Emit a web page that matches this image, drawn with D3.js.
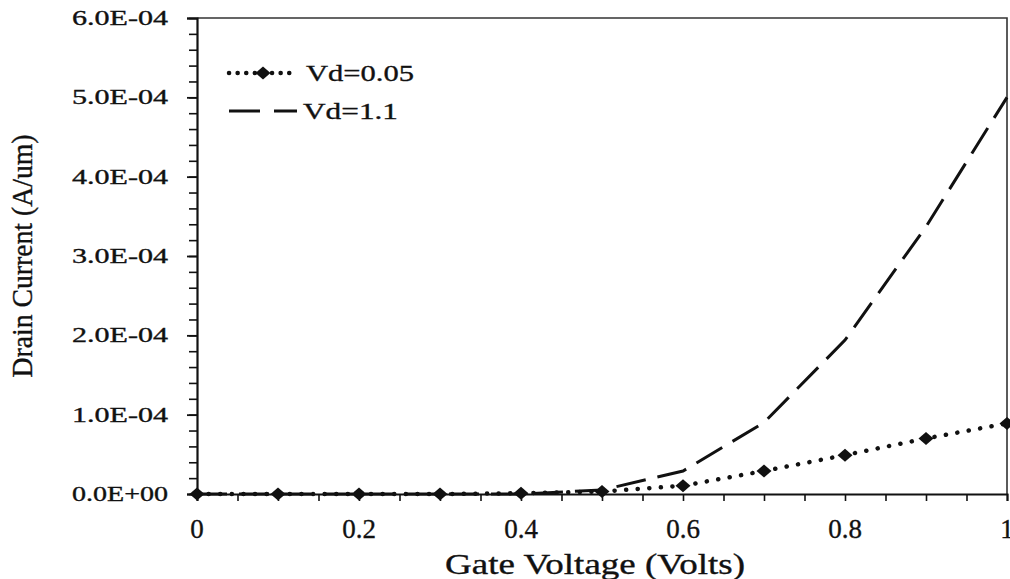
<!DOCTYPE html>
<html>
<head>
<meta charset="utf-8">
<script src="https://cdn.jsdelivr.net/npm/d3@7"></script>
<style>
  body { margin: 0; background: #fff; }
  text { font-family: "Liberation Serif", "Times New Roman", serif; fill: #111; stroke: #111; stroke-width: 0.35px; }
</style>
</head>
<body>
<div id="chart"></div>
<script>
var width = 1010;
var height = 579;

// data
var gateVoltage = [0, 0.1, 0.2, 0.3, 0.4, 0.5, 0.6, 0.7, 0.8, 0.9, 1.0];
var vd005 = [0, 0, 0, 0, 0.1e-5, 0.3e-5, 1.05e-5, 2.9e-5, 4.9e-5, 7.0e-5, 8.9e-5];
var vd11 = [0, 0, 0, 0, 0, 0.5e-5, 2.9e-5, 9.0e-5, 19.4e-5, 33.7e-5, 50.0e-5];
var seriesNames = ["Vd=0.05", "Vd=1.1"];
var xTicks = [0, 0.2, 0.4, 0.6, 0.8, 1];
var xTickLabels = ["0", "0.2", "0.4", "0.6", "0.8", "1"];
var yTicks = [0, 1e-4, 2e-4, 3e-4, 4e-4, 5e-4, 6e-4];
var yTickLabels = ["0.0E+00", "1.0E-04", "2.0E-04", "3.0E-04", "4.0E-04", "5.0E-04", "6.0E-04"];

// plot box (top is a window property, so use other names)
var plotLeft = 197, plotRight = 1007, plotTop = 18, plotBottom = 494;

var xScale = d3.scaleLinear().domain([0, 1]).range([plotLeft, plotRight]);
var yScale = d3.scaleLinear().domain([0, 6e-4]).range([plotBottom, plotTop]);

var svg = d3.select("#chart")
    .append("svg")
    .attr("width", width)
    .attr("height", height);

// box top and right
svg.append("path")
    .attr("d", "M" + plotLeft + "," + plotTop + "H" + plotRight + "V" + plotBottom)
    .attr("fill", "none")
    .attr("stroke", "#333")
    .attr("stroke-width", 1.6);

// x axis: ticks every 0.05, labels every 0.2
var xAxis = d3.axisBottom(xScale)
    .tickValues(d3.range(0, 1.0001, 0.05))
    .tickSize(7)
    .tickFormat("");
var gx = svg.append("g")
    .attr("transform", "translate(0," + plotBottom + ")")
    .call(xAxis);
gx.select(".domain").attr("stroke", "#111").attr("stroke-width", 2);
gx.selectAll(".tick line").attr("stroke", "#111").attr("stroke-width", 1.6);

svg.selectAll(".xlab")
    .data(xTicks)
    .enter()
    .append("text")
    .attr("class", "xlab")
    .attr("x", function(d) { return xScale(d); })
    .attr("y", 538)
    .attr("text-anchor", "middle")
    .style("font-size", "27px")
    .text(function(d, i) { return xTickLabels[i]; });

// y axis: minor ticks
var yMinor = d3.axisLeft(yScale)
    .tickValues(d3.range(0, 6.0001e-4, 0.2e-4))
    .tickSize(8)
    .tickFormat("");
var gyMinor = svg.append("g")
    .attr("transform", "translate(" + plotLeft + ",0)")
    .call(yMinor);
gyMinor.select(".domain").remove();
gyMinor.selectAll(".tick line").attr("stroke", "#111").attr("stroke-width", 1.6);

var yAxis = d3.axisLeft(yScale)
    .tickValues(yTicks)
    .tickSize(10)
    .tickFormat("");
var gy = svg.append("g")
    .attr("transform", "translate(" + plotLeft + ",0)")
    .call(yAxis);
gy.select(".domain").attr("stroke", "#111").attr("stroke-width", 2.2);
gy.selectAll(".tick line").attr("stroke", "#111").attr("stroke-width", 1.8);

svg.selectAll(".ylab")
    .data(yTicks)
    .enter()
    .append("text")
    .attr("class", "ylab")
    .attr("x", 168)
    .attr("y", function(d) { return yScale(d) + 7; })
    .attr("text-anchor", "end")
    .attr("textLength", 96)
    .attr("lengthAdjust", "spacingAndGlyphs")
    .style("font-size", "21px")
    .text(function(d, i) { return yTickLabels[i]; });

// axis titles
svg.append("text")
    .attr("x", 595)
    .attr("y", 574)
    .attr("text-anchor", "middle")
    .attr("textLength", 300)
    .attr("lengthAdjust", "spacingAndGlyphs")
    .style("font-size", "29px")
    .text("Gate Voltage (Volts)");

svg.append("text")
    .attr("transform", "translate(32,256) rotate(-90)")
    .attr("text-anchor", "middle")
    .attr("textLength", 243)
    .attr("lengthAdjust", "spacingAndGlyphs")
    .style("font-size", "29px")
    .text("Drain Current (A/um)");

// lines
var line = d3.line()
    .x(function(d, i) { return xScale(gateVoltage[i]); })
    .y(function(d) { return yScale(d); });

svg.append("path")
    .datum(vd11)
    .attr("d", line)
    .attr("fill", "none")
    .attr("stroke", "#111")
    .attr("stroke-width", 3)
    .attr("stroke-dasharray", "30 12");

svg.append("path")
    .datum(vd005)
    .attr("d", line)
    .attr("fill", "none")
    .attr("stroke", "#111")
    .attr("stroke-width", 4.5)
    .attr("stroke-linecap", "round")
    .attr("stroke-dasharray", "0.1 11.5");

var diamond = "M0,-6.5L7.5,0L0,6.5L-7.5,0Z";
svg.selectAll(".marker")
    .data(vd005)
    .enter()
    .append("path")
    .attr("class", "marker")
    .attr("d", diamond)
    .attr("fill", "#111")
    .attr("transform", function(d, i) {
        return "translate(" + xScale(gateVoltage[i]) + "," + yScale(d) + ")";
    });

// legend
var leg = svg.append("g");
leg.append("line")
    .attr("x1", 229).attr("x2", 292)
    .attr("y1", 73).attr("y2", 73)
    .attr("stroke", "#111")
    .attr("stroke-width", 4.5)
    .attr("stroke-linecap", "round")
    .attr("stroke-dasharray", "0.1 8.5");
leg.append("path")
    .attr("d", diamond)
    .attr("fill", "#111")
    .attr("transform", "translate(263,73)");
leg.append("line")
    .attr("x1", 229).attr("x2", 297)
    .attr("y1", 111).attr("y2", 111)
    .attr("stroke", "#111")
    .attr("stroke-width", 3)
    .attr("stroke-dasharray", "31 14");
leg.selectAll(".legtext")
    .data(seriesNames)
    .enter()
    .append("text")
    .attr("class", "legtext")
    .attr("x", function(d, i) { return i === 0 ? 306 : 303; })
    .attr("y", function(d, i) { return i === 0 ? 81 : 119; })
    .attr("textLength", function(d, i) { return i === 0 ? 108 : 95; })
    .attr("lengthAdjust", "spacingAndGlyphs")
    .style("font-size", "24px")
    .text(function(d) { return d; });
</script>
</body>
</html>
